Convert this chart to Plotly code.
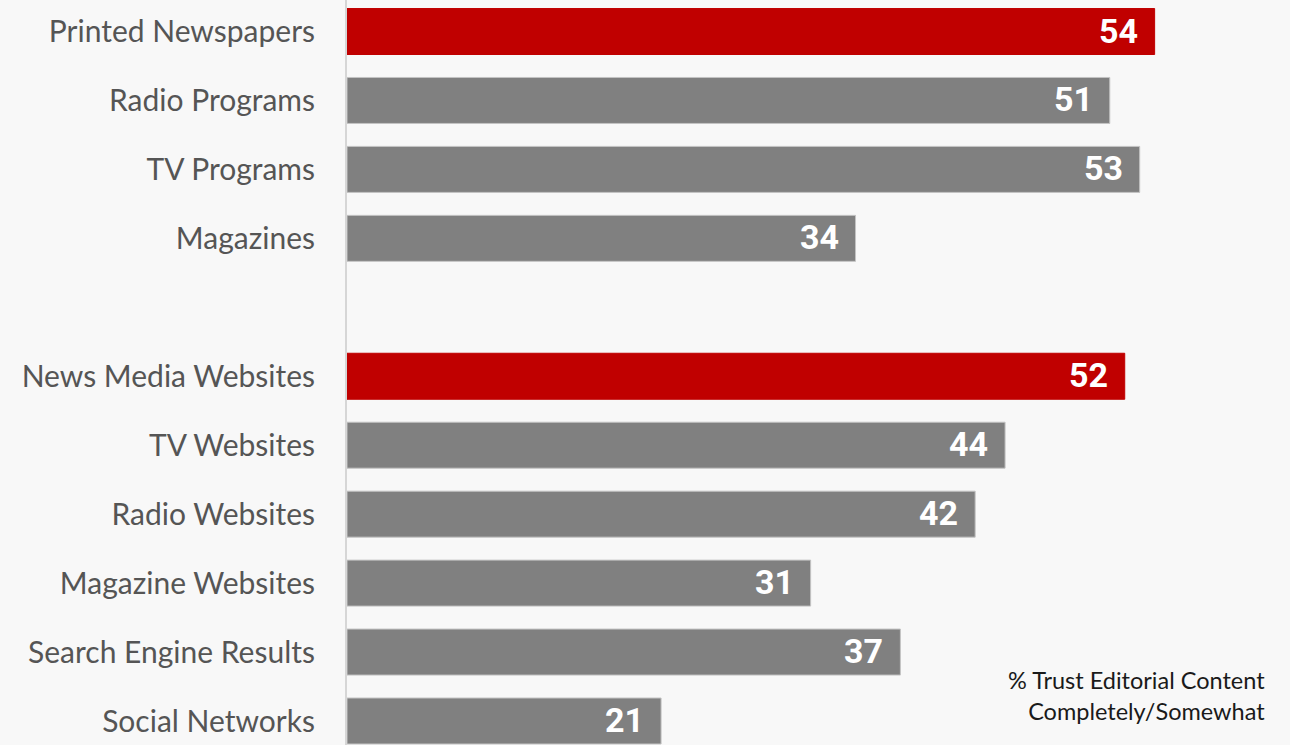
import plotly.graph_objects as go

categories = ["Printed Newspapers", "Radio Programs", "TV Programs", "Magazines",
              "News Media Websites", "TV Websites", "Radio Websites",
              "Magazine Websites", "Search Engine Results", "Social Networks"]
values = [54, 51, 53, 34, 52, 44, 42, 31, 37, 21]
slots = [0, 1, 2, 3, 5, 6, 7, 8, 9, 10]
highlight = [True, False, False, False, True, False, False, False, False, False]

RED = "#c00000"
GRAY = "#808080"

colors = [RED if h else GRAY for h in highlight]
line_colors = [RED if h else "#c4c4c4" for h in highlight]

fig = go.Figure()
fig.add_trace(go.Bar(
    x=values, y=slots, orientation="h",
    marker=dict(color=colors, line=dict(color=line_colors, width=1)),
    width=0.667, hoverinfo="skip",
))

for v, s in zip(values, slots):
    fig.add_annotation(x=v, y=s, text=str(v), showarrow=False,
                       xanchor="right", yanchor="middle", xshift=-15, yshift=1,
                       font=dict(family="Roboto", size=34, color="white", weight=700))

fig.add_annotation(xref="paper", yref="paper", x=0.976, y=0.024,
                   text="% Trust Editorial Content<br>Completely/Somewhat",
                   showarrow=False, xanchor="right", yanchor="bottom", align="right",
                   font=dict(family="Lato", size=23.5, color="#1a1a1a"))

fig.update_layout(
    width=1290, height=745,
    margin=dict(l=347, r=0, t=0, b=0),
    paper_bgcolor="#f8f8f8", plot_bgcolor="#f8f8f8",
    showlegend=False,
    xaxis=dict(range=[0, 63.05], visible=False, fixedrange=True),
    yaxis=dict(range=[10.348, -0.457], tickvals=slots, ticktext=categories,
               showgrid=False, zeroline=False, showline=True, linecolor="#d6d6d6",
               linewidth=2, ticks="outside", ticklen=24, tickcolor="rgba(0,0,0,0)",
               tickfont=dict(family="Lato", size=30, color="#555555")),
)

fig.write_html("out.html")
